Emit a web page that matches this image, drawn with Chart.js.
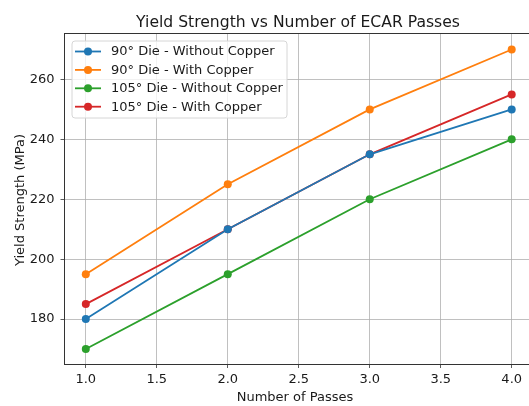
<!DOCTYPE html>
<html>
<head>
<meta charset="utf-8">
<script src="https://cdn.jsdelivr.net/npm/chart.js@4.4.1/dist/chart.umd.min.js"></script>
<style>
  html, body { margin: 0; padding: 0; background: #fff; overflow: hidden; }
  body { width: 529px; height: 406px; }
  canvas { display: block; }
</style>
</head>
<body>
<!-- the original figure is cut off on the right, so the canvas is a bit wider than the window -->
<canvas id="yieldChart" width="537" height="406"></canvas>
<script>
// data
const passes = [1, 2, 3, 4];
const die90NoCopper = [180, 210, 235, 250];
const die90Copper = [195, 225, 250, 270];
const die105NoCopper = [170, 195, 220, 240];
const die105Copper = [185, 210, 235, 255];

const seriesLabels = [
    "90° Die - Without Copper",
    "90° Die - With Copper",
    "105° Die - Without Copper",
    "105° Die - With Copper"
];
const seriesColors = ["#1f77b4", "#ff7f0e", "#2ca02c", "#d62728"];

const xTicks = [1.0, 1.5, 2.0, 2.5, 3.0, 3.5, 4.0];
const yTicks = [180, 200, 220, 240, 260];

const FONT = "'DejaVu Sans', sans-serif";
const TEXT = '#1a1a1a';

function toPoints(values) {
    return passes.map((p, i) => ({ x: p, y: values[i] }));
}

const allSeries = [die90NoCopper, die90Copper, die105NoCopper, die105Copper];

// title, axis labels, top spine and the in-plot legend
const decorPlugin = {
    id: 'decor',
    afterDraw(chart) {
        const ctx = chart.ctx;
        const area = chart.chartArea;
        ctx.save();

        // top spine
        ctx.strokeStyle = '#333';
        ctx.lineWidth = 1;
        ctx.beginPath();
        ctx.moveTo(area.left, area.top + 0.5);
        ctx.lineTo(area.right, area.top + 0.5);
        ctx.stroke();

        ctx.fillStyle = TEXT;
        ctx.textAlign = 'center';
        ctx.textBaseline = 'alphabetic';
        ctx.font = `15.6px ${FONT}`;
        ctx.fillText("Yield Strength vs Number of ECAR Passes", 298, 27);

        ctx.font = `13px ${FONT}`;
        ctx.fillText("Number of Passes", 295, 400.5);

        ctx.save();
        ctx.translate(24, 200);
        ctx.rotate(-Math.PI / 2);
        ctx.fillText("Yield Strength (MPa)", 0, 0);
        ctx.restore();

        // legend box
        const bx = 72, by = 41, bw = 215, bh = 77, r = 3;
        ctx.beginPath();
        ctx.moveTo(bx + r, by);
        ctx.arcTo(bx + bw, by, bx + bw, by + bh, r);
        ctx.arcTo(bx + bw, by + bh, bx, by + bh, r);
        ctx.arcTo(bx, by + bh, bx, by, r);
        ctx.arcTo(bx, by, bx + bw, by, r);
        ctx.closePath();
        ctx.fillStyle = 'rgba(255,255,255,0.8)';
        ctx.fill();
        ctx.strokeStyle = '#d6d6d6';
        ctx.lineWidth = 1;
        ctx.stroke();

        ctx.textAlign = 'left';
        ctx.textBaseline = 'middle';
        ctx.font = `13px ${FONT}`;
        seriesLabels.forEach((label, i) => {
            const y = 51.5 + i * 18.4;
            ctx.strokeStyle = seriesColors[i];
            ctx.lineWidth = 1.8;
            ctx.beginPath();
            ctx.moveTo(75, y);
            ctx.lineTo(101, y);
            ctx.stroke();
            ctx.fillStyle = seriesColors[i];
            ctx.beginPath();
            ctx.arc(88, y, 4, 0, Math.PI * 2);
            ctx.fill();
            ctx.fillStyle = TEXT;
            ctx.fillText(label, 111, y + 0.5);
        });

        ctx.restore();
    }
};

const ctx = document.getElementById('yieldChart').getContext('2d');
new Chart(ctx, {
    type: 'line',
    data: {
        datasets: allSeries.map((values, i) => ({
            label: seriesLabels[i],
            data: toPoints(values),
            borderColor: seriesColors[i],
            backgroundColor: seriesColors[i],
            borderWidth: 1.8,
            pointRadius: 4,
            pointBorderWidth: 0,
            pointBackgroundColor: seriesColors[i],
            tension: 0,
            fill: false
        }))
    },
    options: {
        responsive: false,
        animation: false,
        devicePixelRatio: 1,
        layout: { padding: { left: 0.5, top: 33, right: 1, bottom: 0 } },
        plugins: {
            legend: { display: false },
            title: { display: false },
            tooltip: { enabled: false }
        },
        scales: {
            x: {
                type: 'linear',
                min: 0.85,
                max: 4.15,
                afterBuildTicks: axis => { axis.ticks = xTicks.map(v => ({ value: v })); },
                afterFit: scale => {
                    scale.height = 42;
                    scale.paddingLeft = 0;
                    scale.paddingRight = 0;
                },
                ticks: {
                    color: TEXT,
                    font: { family: FONT, size: 13 },
                    padding: 4,
                    maxRotation: 0,
                    callback: v => v.toFixed(1)
                },
                grid: {
                    color: '#b0b0b0',
                    lineWidth: 0.8,
                    tickColor: '#333',
                    tickLength: 4
                },
                border: { color: '#333', width: 1 }
            },
            y: {
                type: 'linear',
                min: 165,
                max: 275.5,
                afterBuildTicks: axis => { axis.ticks = yTicks.map(v => ({ value: v })); },
                afterFit: scale => { scale.width = 64; },
                ticks: {
                    color: TEXT,
                    font: { family: FONT, size: 13 },
                    padding: 6
                },
                grid: {
                    color: '#b0b0b0',
                    lineWidth: 0.8,
                    tickColor: '#333',
                    tickLength: 4
                },
                border: { color: '#333', width: 1 }
            }
        }
    },
    plugins: [decorPlugin]
});
</script>
</body>
</html>
